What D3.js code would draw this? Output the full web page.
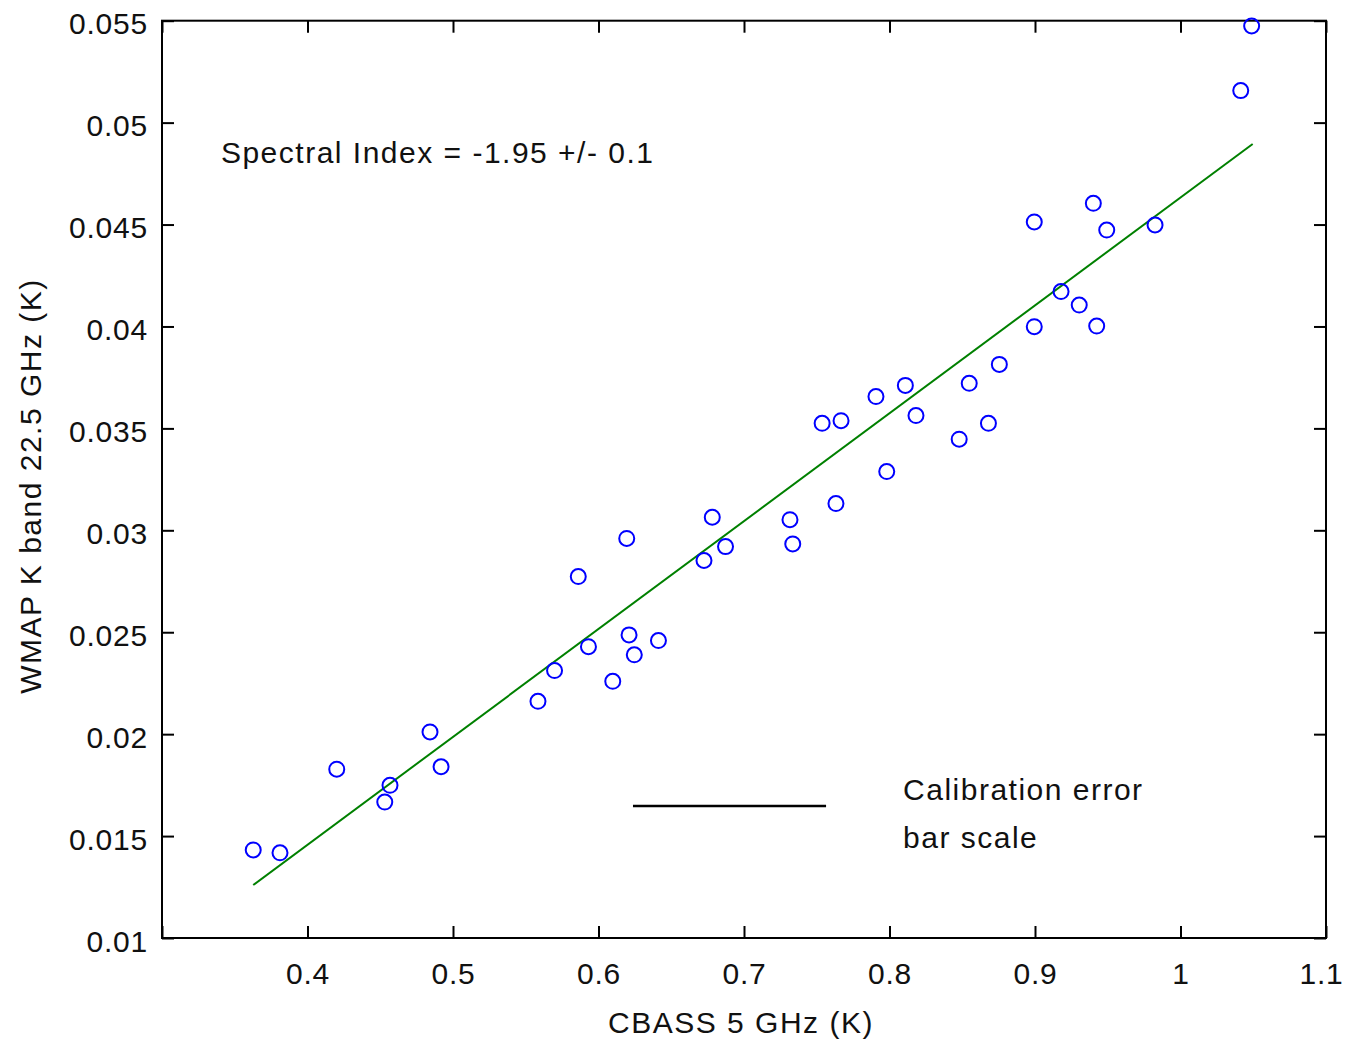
<!DOCTYPE html>
<html>
<head>
<meta charset="utf-8">
<script src="https://cdn.jsdelivr.net/npm/d3@7"></script>
<style>
  body { margin: 0; background: #fff; }
  svg text { font-family: "Liberation Sans", Arial, sans-serif; font-size: 30px; fill: #111; letter-spacing: 1.5px; }
  svg .axis text { letter-spacing: 0.8px; }
</style>
</head>
<body>
<svg width="1348" height="1042"></svg>
<script>
// CBASS 5 GHz vs WMAP K band, one point per region (K)
var cbass = [0.3627, 0.3811, 0.4201, 0.4531, 0.4567, 0.4842, 0.4918, 0.5584, 0.5698, 0.5861,
             0.5931, 0.6098, 0.6194, 0.6210, 0.6246, 0.6412, 0.6725, 0.6782, 0.6873, 0.7316,
             0.7335, 0.7537, 0.7632, 0.7667, 0.7907, 0.7981, 0.8109, 0.8182, 0.8479, 0.8548,
             0.8680, 0.8755, 0.8995, 0.8995, 0.9179, 0.9304, 0.9401, 0.9424, 0.9493, 0.9825,
             1.0414, 1.0489];
var wmap  = [0.01432, 0.01418, 0.01828, 0.01667, 0.01749, 0.02011, 0.01840, 0.02161, 0.02312, 0.02773,
             0.02429, 0.02259, 0.02960, 0.02487, 0.02389, 0.02459, 0.02852, 0.03064, 0.02920, 0.03052,
             0.02933, 0.03525, 0.03131, 0.03538, 0.03656, 0.03288, 0.03711, 0.03563, 0.03447, 0.03721,
             0.03525, 0.03814, 0.04513, 0.03999, 0.04171, 0.04105, 0.04604, 0.04002, 0.04473, 0.04498,
             0.05157, 0.05474];

// fitted line end points
var fitX = [0.3627, 1.0496];
var fitY = [0.0126, 0.04895];

// calibration error bar scale
var calBarX = [0.6237, 0.7564];
var calBarY = [0.01648, 0.01648];

var xTicks = [0.3, 0.4, 0.5, 0.6, 0.7, 0.8, 0.9, 1.0, 1.1];
var xTickLabels = ["", "0.4", "0.5", "0.6", "0.7", "0.8", "0.9", "1", "1.1"];
var yTicks = [0.01, 0.015, 0.02, 0.025, 0.03, 0.035, 0.04, 0.045, 0.05, 0.055];
var yTickLabels = ["0.01", "0.015", "0.02", "0.025", "0.03", "0.035", "0.04", "0.045", "0.05", "0.055"];

const scatterPlot = function() {
    var svg = d3.select("svg"),
    margin = {
        top: 20.7,
        right: 22,
        bottom: 104,
        left: 162
    },
    width = +svg.attr("width") - margin.left - margin.right,
    height = +svg.attr("height") - margin.top - margin.bottom,
    g = svg.append("g").attr("transform", "translate(" + margin.left + "," + margin.top + ")");

    var x = d3.scaleLinear().domain([0.3, 1.1]).range([0, width]);
    var y = d3.scaleLinear().domain([0.01, 0.055]).range([height, 0]);

    var xLabel = function(d, i) { return xTickLabels[i]; };
    var yLabel = function(d, i) { return yTickLabels[i]; };

    // ticks point inward on all four sides
    var xAxis = g.append("g")
        .attr("class", "axis")
        .attr("transform", "translate(0," + height + ")")
        .call(d3.axisBottom(x).tickValues(xTicks).tickFormat(xLabel)
            .tickSizeInner(-12).tickSizeOuter(0).tickPadding(25));
    g.append("g")
        .attr("class", "axis")
        .call(d3.axisTop(x).tickValues(xTicks).tickFormat("")
            .tickSizeInner(-12).tickSizeOuter(0));
    var yAxis = g.append("g")
        .attr("class", "axis")
        .call(d3.axisLeft(y).tickValues(yTicks).tickFormat(yLabel)
            .tickSizeInner(-12).tickSizeOuter(0).tickPadding(14));
    g.append("g")
        .attr("class", "axis")
        .attr("transform", "translate(" + width + ",0)")
        .call(d3.axisRight(y).tickValues(yTicks).tickFormat("")
            .tickSizeInner(-12).tickSizeOuter(0));

    g.selectAll(".axis .domain").remove();
    g.selectAll(".axis line").attr("stroke", "#000").attr("stroke-width", 2);
    g.selectAll(".axis text")
        .attr("font-size", null)
        .attr("font-family", null)
        .attr("fill", null);
    yAxis.selectAll("text").attr("dy", "0.44em");
    // keep the last label inside the page
    xAxis.selectAll("text").filter(function(d) { return d == 1.1; }).attr("dx", -5);

    // box
    g.append("rect")
        .attr("width", width)
        .attr("height", height)
        .attr("fill", "none")
        .attr("stroke", "#000")
        .attr("stroke-width", 2);

    // fit
    var line = d3.line()
        .x(function(d) { return x(d[0]); })
        .y(function(d) { return y(d[1]); });

    g.append("path")
        .datum(d3.zip(fitX, fitY))
        .attr("d", line)
        .attr("fill", "none")
        .attr("stroke", "#008000")
        .attr("stroke-width", 2);

    g.selectAll(".pt")
        .data(d3.zip(cbass, wmap))
        .enter().append("circle")
        .attr("class", "pt")
        .attr("cx", function(d) { return x(d[0]); })
        .attr("cy", function(d) { return y(d[1]); })
        .attr("r", 7.5)
        .attr("fill", "none")
        .attr("stroke", "#0000ff")
        .attr("stroke-width", 2);

    g.append("path")
        .datum(d3.zip(calBarX, calBarY))
        .attr("d", line)
        .attr("fill", "none")
        .attr("stroke", "#000")
        .attr("stroke-width", 2.5);

    g.append("text")
        .attr("x", x(0.3405))
        .attr("y", y(0.048))
        .text("Spectral Index = -1.95 +/- 0.1");

    g.append("text")
        .attr("x", x(0.8093))
        .attr("y", y(0.01675))
        .text("Calibration error");
    g.append("text")
        .attr("x", x(0.8093))
        .attr("y", y(0.01440))
        .text("bar scale");

    // axis titles
    svg.append("text")
        .attr("x", margin.left + width / 2 - 3)
        .attr("y", 1033)
        .attr("text-anchor", "middle")
        .text("CBASS 5 GHz (K)");

    svg.append("text")
        .attr("transform", "translate(41," + 486 + ") rotate(-90)")
        .attr("text-anchor", "middle")
        .text("WMAP K band 22.5 GHz (K)");
}

scatterPlot();
</script>
</body>
</html>
